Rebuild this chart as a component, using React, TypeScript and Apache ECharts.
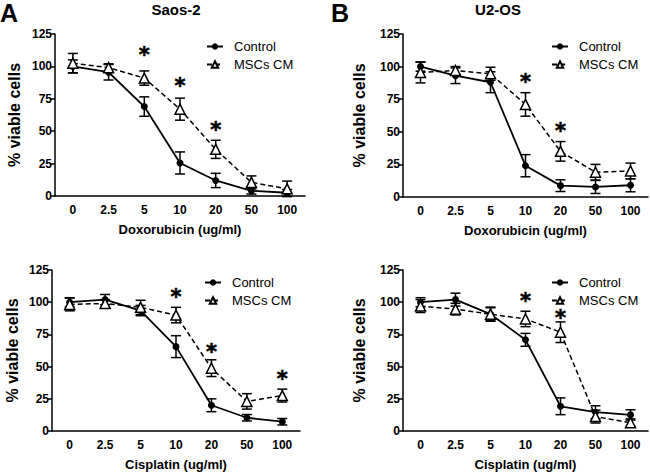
import React, { useEffect, useRef } from 'react';
import * as echarts from 'echarts';

const FONT = '"Liberation Sans", Arial, Helvetica, sans-serif';

const categories = ['0', '2.5', '5', '10', '20', '50', '100'];
const yTicks = [0, 25, 50, 75, 100, 125];

// Panel A: Saos-2, Doxorubicin
const doxSaosControl = [100, 95.5, 69, 25.5, 12, 4, 2.5];
const doxSaosControlErr = [5, 6, 7.5, 8.5, 5.5, 2.5, 2.5];
const doxSaosMsc = [102.5, 99, 91, 67, 36, 10.5, 5.5];
const doxSaosMscErr = [7.5, 3, 5.5, 8.5, 7, 5, 6];
const doxSaosStars = [[2, 113], [3, 88.5], [4, 54.5]];

// Panel B: U2-OS, Doxorubicin
const doxU2Control = [100, 93, 88, 24, 8.7, 7.7, 9];
const doxU2ControlErr = [3.5, 6, 8, 8.5, 4.5, 5, 5];
const doxU2Msc = [95.5, 97, 94.5, 71, 35, 19, 20];
const doxU2MscErr = [8, 3, 5, 9, 7.5, 6, 6];
const doxU2Stars = [[3, 92], [4, 54.7]];

// Panel C: Saos-2, Cisplatin
const cisSaosControl = [100, 102, 93.5, 65.5, 20, 10.3, 7.2];
const cisSaosControlErr = [3.5, 4, 4, 8.5, 5, 2.5, 2.5];
const cisSaosMsc = [98.3, 99, 96, 90, 48.8, 23, 27.5];
const cisSaosMscErr = [5, 3, 5.5, 6, 6.5, 6, 5];
const cisSaosStars = [[3, 108], [4, 65.5], [6, 44]];

// Panel D: U2-OS, Cisplatin
const cisU2Control = [100, 102, 90.7, 70.8, 19.2, 14.6, 12.5];
const cisU2ControlErr = [3.5, 5, 5.5, 5, 6.5, 5, 4];
const cisU2Msc = [97, 94.6, 90.7, 87, 76.7, 11.2, 6.4];
const cisU2MscErr = [5, 4.5, 5, 6, 8, 5, 3];
const cisU2Stars = [[3, 104.5], [4, 91.8]];

const panels = [
  { grid: { left: 55, top: 34, width: 250, height: 162 }, xName: 'Doxorubicin (ug/ml)', yGap: 33,
    control: doxSaosControl, controlErr: doxSaosControlErr, msc: doxSaosMsc, mscErr: doxSaosMscErr, stars: doxSaosStars,
    legend: { left: 201, top: 35 } },
  { grid: { left: 403, top: 34, width: 245, height: 163 }, xName: 'Doxorubicin (ug/ml)', yGap: 36,
    control: doxU2Control, controlErr: doxU2ControlErr, msc: doxU2Msc, mscErr: doxU2MscErr, stars: doxU2Stars,
    legend: { left: 546, top: 35 } },
  { grid: { left: 52, top: 270, width: 248, height: 163 }, xName: 'Cisplatin (ug/ml)', yGap: 32,
    control: cisSaosControl, controlErr: cisSaosControlErr, msc: cisSaosMsc, mscErr: cisSaosMscErr, stars: cisSaosStars,
    legend: { left: 199, top: 271 } },
  { grid: { left: 403, top: 270, width: 245, height: 163 }, xName: 'Cisplatin (ug/ml)', yGap: 36,
    control: cisU2Control, controlErr: cisU2ControlErr, msc: cisU2Msc, mscErr: cisU2MscErr, stars: cisU2Stars,
    legend: { left: 546, top: 271 } },
];

function errorRender(params: any, api: any) {
  const x = api.value(0);
  const m = api.value(1);
  const e = api.value(2);
  const top = api.coord([x, m + e]);
  const bot = api.coord([x, m - e]);
  const hw = 5;
  const style = { stroke: '#000', lineWidth: 1.5 };
  return {
    type: 'group',
    children: [
      { type: 'line', shape: { x1: top[0], y1: top[1], x2: bot[0], y2: bot[1] }, style },
      { type: 'line', shape: { x1: top[0] - hw, y1: top[1], x2: top[0] + hw, y2: top[1] }, style },
      { type: 'line', shape: { x1: bot[0] - hw, y1: bot[1], x2: bot[0] + hw, y2: bot[1] }, style },
    ],
  };
}

export default function App() {
  const ref = useRef<HTMLDivElement>(null);
  useEffect(() => {
    if (!ref.current) return;
    const chart = echarts.init(ref.current, undefined, { renderer: 'svg' });
    const grids: any[] = [];
    const xAxes: any[] = [];
    const yAxes: any[] = [];
    const series: any[] = [];
    const legends: any[] = [];
    panels.forEach((p, i) => {
      grids.push({ ...p.grid, containLabel: false });
      xAxes.push({
        type: 'category', gridIndex: i, data: categories, boundaryGap: true,
        axisLine: { lineStyle: { color: '#000', width: 1.5 } },
        axisTick: { show: false },
        axisLabel: { color: '#000', fontWeight: 'bold', fontSize: 12, fontFamily: FONT, margin: 8 },
        name: p.xName, nameLocation: 'middle', nameGap: 27,
        nameTextStyle: { color: '#000', fontWeight: 'bold', fontSize: 13, fontFamily: FONT },
      });
      yAxes.push({
        type: 'value', gridIndex: i, min: yTicks[0], max: yTicks[yTicks.length - 1], interval: 25,
        axisLine: { show: true, lineStyle: { color: '#000', width: 1.5 } },
        axisTick: { show: true, length: 4, lineStyle: { color: '#000', width: 1.5 } },
        splitLine: { show: false },
        axisLabel: { color: '#000', fontWeight: 'bold', fontSize: 12, fontFamily: FONT, margin: 3 },
        name: '% viable cells', nameLocation: 'middle', nameGap: p.yGap,
        nameTextStyle: { color: '#000', fontWeight: 'bold', fontSize: 16, fontFamily: FONT },
      });
      series.push({
        type: 'custom', name: 'ctrlErr' + i, xAxisIndex: i, yAxisIndex: i, z: 2,
        renderItem: errorRender, encode: { x: 0, y: 1 },
        data: categories.map((_, j) => [j, p.control[j], p.controlErr[j]]),
      });
      series.push({
        type: 'custom', name: 'mscErr' + i, xAxisIndex: i, yAxisIndex: i, z: 2,
        renderItem: errorRender, encode: { x: 0, y: 1 },
        data: categories.map((_, j) => [j, p.msc[j], p.mscErr[j]]),
      });
      series.push({
        type: 'line', name: 'Control', xAxisIndex: i, yAxisIndex: i, z: 3,
        data: p.control, symbol: 'circle', symbolSize: 7,
        lineStyle: { color: '#000', width: 1.8 },
        itemStyle: { color: '#000' },
      });
      series.push({
        type: 'line', name: 'MSCs CM', xAxisIndex: i, yAxisIndex: i, z: 4,
        data: p.msc, symbol: 'triangle', symbolSize: 10,
        lineStyle: { color: '#000', width: 1.5, type: [5, 3] },
        itemStyle: { color: '#fff', borderColor: '#000', borderWidth: 1.5 },
      });
      series.push({
        type: 'scatter', name: 'stars' + i, xAxisIndex: i, yAxisIndex: i, z: 5,
        data: p.stars, symbolSize: 1, itemStyle: { color: '#000', opacity: 0 },
        label: {
          show: true, formatter: '*', position: 'inside', color: '#000', opacity: 1,
          textBorderColor: '#000', textBorderWidth: 0.6,
          fontSize: 21, fontWeight: 'bold', fontFamily: '"DejaVu Sans", sans-serif', offset: [0, 5],
        },
      });
      legends.push({
        data: ['Control', 'MSCs CM'], orient: 'vertical', left: p.legend.left, top: p.legend.top,
        itemWidth: 16, itemHeight: 8, itemGap: 5, selectedMode: false,
        textStyle: { color: '#000', fontSize: 13, fontFamily: FONT, padding: [0, 0, 0, 6] },
      });
    });
    chart.setOption({
      animation: false,
      backgroundColor: '#fff',
      grid: grids, xAxis: xAxes, yAxis: yAxes, series, legend: legends,
      graphic: [
        { type: 'text', left: 0, top: 0, style: { text: 'A', fontSize: 25, fontWeight: 'bold', fontFamily: FONT, fill: '#000' } },
        { type: 'text', left: 331, top: 0, style: { text: 'B', fontSize: 25, fontWeight: 'bold', fontFamily: FONT, fill: '#000' } },
        { type: 'text', x: 176, y: 9, style: { text: 'Saos-2', fontSize: 15, fontWeight: 'bold', fontFamily: FONT, fill: '#000', textAlign: 'center', textVerticalAlign: 'middle' } },
        { type: 'text', x: 498, y: 9, style: { text: 'U2-OS', fontSize: 15, fontWeight: 'bold', fontFamily: FONT, fill: '#000', textAlign: 'center', textVerticalAlign: 'middle' } },
      ],
    });
    return () => chart.dispose();
  }, []);
  return <div ref={ref} style={{ position: 'fixed', left: 0, top: 0, width: 650, height: 472 }} />;
}
